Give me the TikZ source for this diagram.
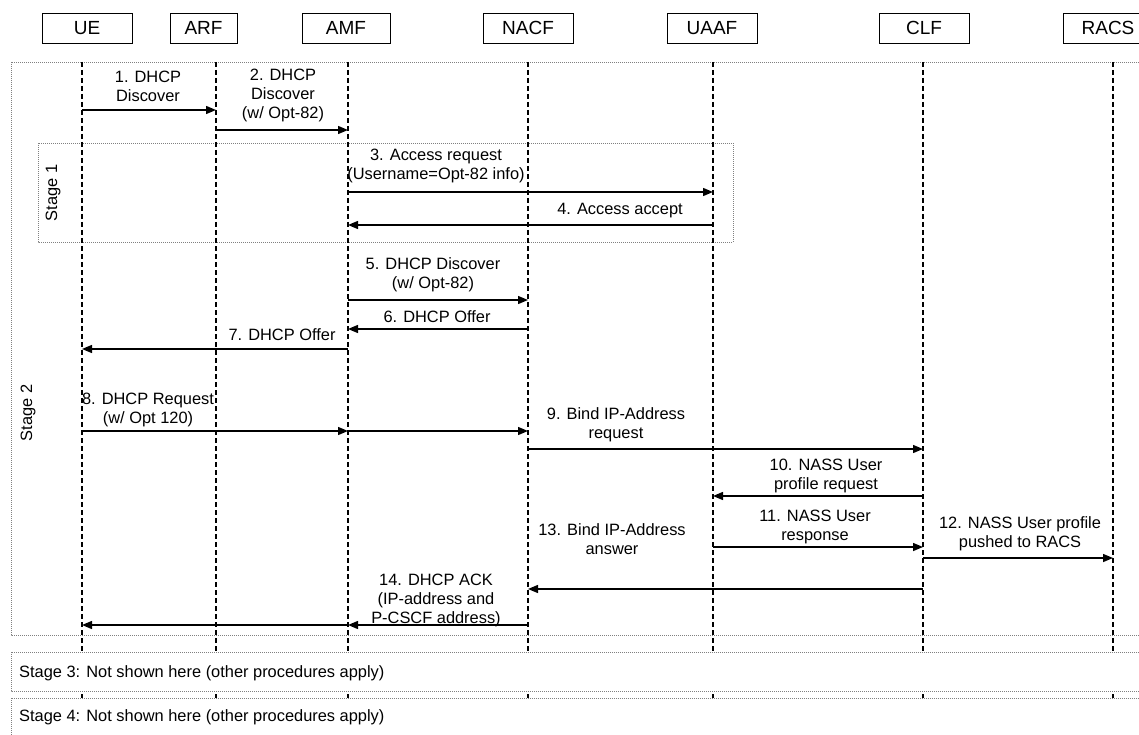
\documentclass[tikz,border=0pt]{standalone}
\usepackage{fontspec}
\setmainfont{Liberation Sans}
\usetikzlibrary{arrows.meta}
\begin{document}
\begin{tikzpicture}[x=1pt,y=-1pt,
  lifeline/.style={line width=1.3pt, dash pattern=on 5pt off 3pt},
  stagebox/.style={draw=gray, line width=0.8pt, dash pattern=on 1pt off 1pt},
  entity/.style={draw, line width=0.9pt, fill=white, minimum height=30pt, inner sep=0pt,
    font=\fontsize{19}{22}\selectfont},
  msg/.style={line width=1.4pt, -{Triangle[length=10pt,width=8pt]}},
  lbl/.style={align=center, inner sep=0pt, font=\fontsize{16.4}{19}\selectfont},
]
\useasboundingbox (0,0) rectangle (1139,735);
\clip (0,0) rectangle (1139,735);

% entity headers
\node[entity, minimum width=90pt] (UEbox)   at (87,28)   {UE};
\node[entity, minimum width=67pt] (ARFbox)  at (203.5,28) {ARF};
\node[entity, minimum width=88pt] (AMFbox)  at (346,28)  {AMF};
\node[entity, minimum width=90pt] (NACFbox) at (528,28)  {NACF};
\node[entity, minimum width=90pt] (UAAFbox) at (712,28)  {UAAF};
\node[entity, minimum width=90pt] (CLFbox)  at (924,28)  {CLF};
\node[entity, minimum width=90pt] (RACSbox) at (1108,28) {RACS};

% stage frames
\draw[stagebox] (11,62) rectangle (1150,635);
\draw[stagebox] (38,143) rectangle (733,242);
\node[lbl, rotate=90] (st1) at (53,193) {Stage 1};
\node[lbl, rotate=90] (st2) at (28,413) {Stage 2};

% lifelines
\foreach \n/\x in {ue/82, arf/216, amf/348, nacf/528, uaaf/713, clf/923, racs/1113}{
  \coordinate (\n) at (\x,62);
  \coordinate (\n-end) at (\x,740);
  \draw[lifeline] (\n) -- (\n-end);
}

% later stages, covering the lifelines
\draw[stagebox, fill=white] (11,652) rectangle (1150,691);
\draw[stagebox, fill=white] (11,698) rectangle (1150,745);
\node[lbl, anchor=west] (st3) at (19,673) {Stage 3: Not shown here (other procedures apply)};
\node[lbl, anchor=west] (st4) at (19,717) {Stage 4: Not shown here (other procedures apply)};

% message rows
\foreach \r/\y in {1/110, 2/130, 3/192, 4/225, 5/300, 6/329, 7/349, 8/431,
                   9/449, 10/496, 11/547, 12/558, 13/589, 14/625}{
  \coordinate (r\r) at (0,\y);
}

% messages
\draw[msg] (ue |- r1) -- (arf |- r1);
\draw[msg] (arf |- r2) -- (amf |- r2);
\draw[msg] (amf |- r3) -- (uaaf |- r3);
\draw[msg] (uaaf |- r4) -- (amf |- r4);
\draw[msg] (amf |- r5) -- (nacf |- r5);
\draw[msg] (nacf |- r6) -- (amf |- r6);
\draw[msg] (amf |- r7) -- (ue |- r7);
\draw[msg] (ue |- r8) -- (amf |- r8);
\draw[msg] (amf |- r8) -- (nacf |- r8);
\draw[msg] (nacf |- r9) -- (clf |- r9);
\draw[msg] (clf |- r10) -- (uaaf |- r10);
\draw[msg] (uaaf |- r11) -- (clf |- r11);
\draw[msg] (clf |- r12) -- (racs |- r12);
\draw[msg] (clf |- r13) -- (nacf |- r13);
\draw[msg] (nacf |- r14) -- (amf |- r14);
\draw[msg] (amf |- r14) -- (ue |- r14);

% message labels
\node[lbl] (m1)  at (148,86)    {1. DHCP\\Discover};
\node[lbl] (m2)  at (283,95)    {2. DHCP\\Discover\\(w/ Opt-82)};
\node[lbl] (m3)  at (436,165.5) {3. Access request\\(Username=Opt-82 info)};
\node[lbl] (m4)  at (620,211)   {4. Access accept};
\node[lbl] (m5)  at (433,275)   {5. DHCP Discover\\(w/ Opt-82)};
\node[lbl] (m6)  at (437,317)   {6. DHCP Offer};
\node[lbl] (m7)  at (282,335)   {7. DHCP Offer};
\node[lbl] (m8)  at (148,410)   {8. DHCP Request\\(w/ Opt 120)};
\node[lbl] (m9)  at (616,425)   {9. Bind IP-Address\\request};
\node[lbl] (m10) at (826,476)   {10. NASS User\\profile request};
\node[lbl] (m11) at (815,526.5) {11. NASS User\\response};
\node[lbl] (m12) at (1020,534)  {12. NASS User profile\\pushed to RACS};
\node[lbl] (m13) at (612,539.5) {13. Bind IP-Address\\answer};
\node[lbl] (m14) at (436,600)   {14. DHCP ACK\\(IP-address and\\P-CSCF address)};
\end{tikzpicture}
\end{document}
